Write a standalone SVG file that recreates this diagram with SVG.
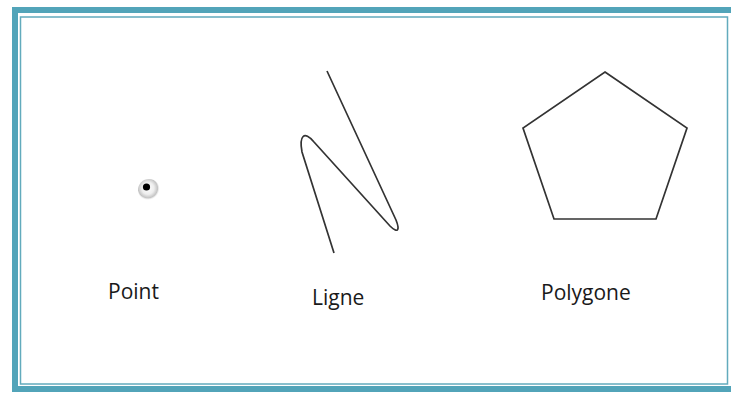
<svg xmlns="http://www.w3.org/2000/svg" width="731" height="394" viewBox="0 0 731 394">
<style>
.lbl{font-family:"Open Sans","Liberation Sans",sans-serif;font-size:21px;fill:#1a1a1a}
.shape{fill:none;stroke:#333;stroke-width:1.7;stroke-linejoin:miter}
</style>
<defs>
<radialGradient id="glow" cx="0.45" cy="0.42" r="0.55">
<stop offset="0" stop-color="#ffffff"/>
<stop offset="0.5" stop-color="#eeeeee"/>
<stop offset="0.8" stop-color="#c4c4c4"/>
<stop offset="1" stop-color="#ffffff" stop-opacity="0"/>
</radialGradient>
</defs>
<rect width="731" height="394" fill="#ffffff"/>
<g id="frame">
<rect x="15" y="10" width="730" height="379" fill="none" stroke="#52a4b9" stroke-width="6"/>
<rect x="20.5" y="17" width="707" height="367" fill="none" stroke="#62abbd" stroke-width="1.5"/>
</g>
<g id="point">
<circle cx="149" cy="190" r="11" fill="url(#glow)"/>
<circle cx="146.5" cy="187" r="3.6" fill="#000"/>
<text class="lbl" x="108" y="299">Point</text>
</g>
<g id="ligne">
<path class="shape" d="M327,71 L396,220 C400,230 398,234 390,226 L314,142 C304,130 299,136 302,152 L334,253"/>
<text class="lbl" x="312" y="305">Ligne</text>
</g>
<g id="polygone">
<polygon class="shape" points="605,72 687,128 656,219 554,219 523,128"/>
<text class="lbl" x="541" y="300">Polygone</text>
</g>
<g id="connectors"></g>
</svg>
